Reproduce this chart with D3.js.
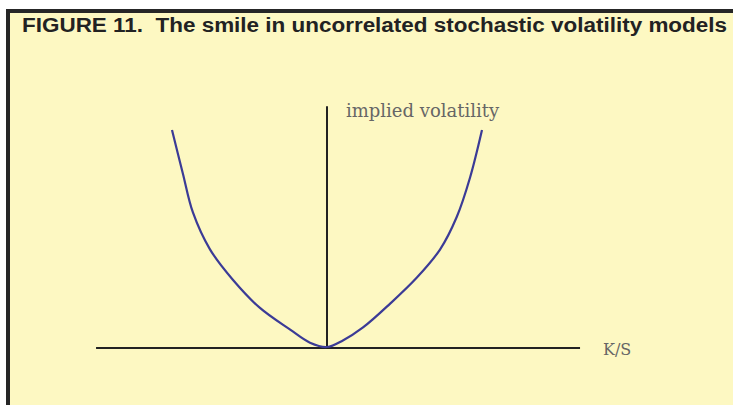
<!DOCTYPE html>
<html>
<head>
<meta charset="utf-8">
<script src="https://cdn.jsdelivr.net/npm/d3@7"></script>
<style>
  html, body { margin: 0; padding: 0; background: #fff; }
  svg { display: block; }
</style>
</head>
<body>
<div id="chart"></div>
<script>
// smile curve: strike/spot and implied vol
const ksValues  = [0.600, 0.628, 0.654, 0.698, 0.757, 0.827, 0.905, 0.956, 1.000,
                   1.041, 1.093, 1.163, 1.232, 1.292, 1.335, 1.369, 1.400];
const volValues = [0.300, 0.280, 0.262, 0.245, 0.231, 0.218, 0.208, 0.202, 0.200,
                   0.203, 0.209, 0.220, 0.232, 0.245, 0.260, 0.278, 0.300];

// axis extents (in data units)
const ksAxis  = [0.404, 1.653];
const volAxis = [0.200, 0.311];
const atmK = 1.0;

const titleText = "FIGURE 11.  The smile in uncorrelated stochastic volatility models";
const yLabel = "implied volatility";
const xLabel = "K/S";

const width = 733, height = 405;

const svg = d3.select("#chart")
    .append("svg")
    .attr("width", width)
    .attr("height", height);

// frame
svg.append("rect")
    .attr("x", 8)
    .attr("y", 11)
    .attr("width", width + 20)
    .attr("height", height + 20)
    .attr("fill", "#fdf8c2")
    .attr("stroke", "#262626")
    .attr("stroke-width", 4);

svg.append("text")
    .attr("x", 22)
    .attr("y", 32)
    .attr("textLength", 705)
    .attr("lengthAdjust", "spacingAndGlyphs")
    .style("font-family", "'Liberation Sans Narrow', 'Liberation Sans', Arial, sans-serif")
    .style("font-weight", "bold")
    .style("font-size", "20px")
    .style("fill", "#222")
    .style("white-space", "pre")
    .text(titleText);

const x = d3.scaleLinear()
    .domain([0.6, 1.4])
    .range([172, 482]);

const y = d3.scaleLinear()
    .domain([0.2, 0.3])
    .range([347, 130]);

// axes
svg.append("line")
    .attr("x1", x(ksAxis[0]))
    .attr("x2", x(ksAxis[1]))
    .attr("y1", y(volAxis[0]) + 1)
    .attr("y2", y(volAxis[0]) + 1)
    .attr("stroke", "#222")
    .attr("stroke-width", 2);

svg.append("line")
    .attr("x1", x(atmK))
    .attr("x2", x(atmK))
    .attr("y1", y(volAxis[0]))
    .attr("y2", y(volAxis[1]))
    .attr("stroke", "#222")
    .attr("stroke-width", 2);

const pts = ksValues.map((k, i) => [k, volValues[i]]);

const line = d3.line()
    .x(d => x(d[0]))
    .y(d => y(d[1]))
    .curve(d3.curveCatmullRom.alpha(0.5));

svg.append("path")
    .datum(pts)
    .attr("d", line)
    .attr("fill", "none")
    .attr("stroke", "#3b3b96")
    .attr("stroke-width", 2.2);

svg.append("text")
    .attr("x", x(atmK) + 19)
    .attr("y", 117)
    .style("font-family", "'DejaVu Serif', 'Liberation Serif', serif")
    .style("font-size", "18px")
    .style("fill", "#666")
    .text(yLabel);

svg.append("text")
    .attr("x", 603)
    .attr("y", 355)
    .style("font-family", "'DejaVu Serif', 'Liberation Serif', serif")
    .style("font-size", "16px")
    .style("fill", "#666")
    .text(xLabel);
</script>
</body>
</html>
